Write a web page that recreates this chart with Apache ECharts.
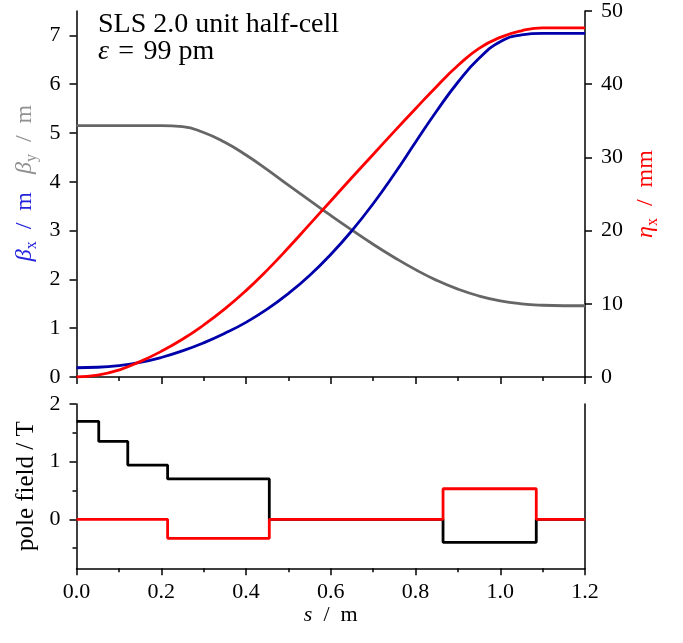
<!DOCTYPE html>
<html><head><meta charset="utf-8">
<script src="https://cdn.jsdelivr.net/npm/echarts@6/dist/echarts.min.js"></script>
<style>html,body{margin:0;padding:0;background:#fff}#c{width:683px;height:643px}</style>
</head><body><div id="c"></div>
<script>
// ---- data ----
const sPos  = [0,0.05,0.1,0.15,0.2,0.25,0.3,0.35,0.4,0.45,0.5,0.55,0.6,0.65,0.7,0.75,0.8,0.85,0.9,0.95,1.0,1.05,1.1,1.15,1.2];
const betaX = [0.19,0.20,0.235,0.30,0.40,0.535,0.70,0.895,1.12,1.39,1.71,2.08,2.51,3.00,3.55,4.16,4.81,5.45,6.04,6.53,6.87,7.01,7.04,7.04,7.04];
const betaY = [5.15,5.15,5.15,5.15,5.15,5.13,5.01,4.81,4.55,4.25,3.93,3.62,3.31,3.01,2.72,2.45,2.20,1.98,1.80,1.66,1.56,1.50,1.47,1.46,1.46];
const etaX  = [0,0.25,0.95,2.1,3.5,5.15,7.1,9.3,11.8,14.6,17.65,20.85,24.05,27.25,30.4,33.55,36.65,39.7,42.55,44.9,46.4,47.3,47.7,47.7,47.7];
const dipoleEdges = [0,0.0525,0.121,0.215,0.455,0.865,1.085,1.2];
const dipoleField = [1.70,1.35,0.94,0.70,0,-0.40,0];
const quadEdges = [0,0.215,0.455,0.865,1.085,1.2];
const quadField = [0,-0.33,0,0.53,0];
const betaTicks = [0,1,2,3,4,5,6,7];
const fieldTicks = [0,1,2];
const fieldMinorTicks = [-0.5,0.5,1.5];

// ---- helpers ----
const zip = (xs, ys) => xs.map((x, i) => [x, ys[i]]);
const steps = (edges, vals) => {
  const d = vals.map((v, i) => [edges[i], v]);
  d.push([edges[edges.length - 1], vals[vals.length - 1]]);
  return d;
};
const F = 'Liberation Serif';
const EN = '\u2002';
const blk = {color: '#000', width: 1.5};
const tickLbl = {fontFamily: F, fontSize: 22, color: '#000'};
const LW = 2.8;

const chart = echarts.init(document.getElementById('c'));
chart.setOption({
  animation: false,
  backgroundColor: '#fff',
  grid: [
    {left: 76.5, right: 98, top: 7, height: 370},
    {left: 76.5, right: 98, top: 404, height: 164.3}
  ],
  title: {
    left: 98, top: 11, padding: 0,
    text: 'SLS 2.0 unit half-cell\n{e|ε}\u2004=\u200499 pm',
    textStyle: {fontFamily: F, fontSize: 28, fontWeight: 'normal', color: '#000', lineHeight: 27,
      rich: {e: {fontFamily: F, fontSize: 28, fontStyle: 'italic', color: '#000', lineHeight: 27}}}
  },
  xAxis: [
    {gridIndex: 0, type: 'value', min: 0, max: 1.2, interval: 0.2, position: 'bottom',
      axisLine: {show: true, onZero: false, lineStyle: blk},
      axisTick: {show: true, length: 7, lineStyle: blk},
      minorTick: {show: true, splitNumber: 2, length: 4, lineStyle: blk},
      axisLabel: {show: false}, splitLine: {show: false}},
    {gridIndex: 1, type: 'value', min: 0, max: 1.2, interval: 0.2, position: 'bottom',
      axisLine: {show: true, onZero: false, lineStyle: blk},
      axisTick: {show: true, length: 7, lineStyle: blk},
      minorTick: {show: true, splitNumber: 2, length: 4, lineStyle: blk},
      axisLabel: Object.assign({margin: 13, formatter: v => v.toFixed(1)}, tickLbl),
      splitLine: {show: false},
      name: '{i|s}' + EN + '/' + EN + 'm', nameLocation: 'middle', nameGap: 36,
      nameTextStyle: {fontFamily: F, fontSize: 22, color: '#000',
        rich: {i: {fontFamily: F, fontSize: 22, fontStyle: 'italic', color: '#000'}}}}
  ],
  yAxis: [
    {gridIndex: 0, type: 'value', position: 'left', min: 0, max: 7.5,
      axisLine: {show: true, lineStyle: blk},
      axisTick: {show: true, length: 7, lineStyle: blk, customValues: betaTicks},
      axisLabel: Object.assign({margin: 16, customValues: betaTicks}, tickLbl),
      splitLine: {show: false}},
    {gridIndex: 0, type: 'value', position: 'right', min: 0, max: 50, interval: 10,
      axisLine: {show: true, lineStyle: blk},
      axisTick: {show: true, length: 7, lineStyle: blk},
      axisLabel: Object.assign({margin: 16}, tickLbl),
      splitLine: {show: false},
      name: '{e|η}{s|x}{n|' + EN + '/' + EN + 'mm}', nameLocation: 'middle', nameRotate: 90, nameGap: 46,
      nameTextStyle: {rich: {
        e: {fontFamily: F, fontSize: 24, fontStyle: 'italic', color: '#f00', lineHeight: 30},
        s: {fontFamily: F, fontSize: 16, color: '#f00', lineHeight: 17, verticalAlign: 'bottom'},
        n: {fontFamily: F, fontSize: 24, color: '#f00', lineHeight: 30}}}},
    {gridIndex: 1, type: 'value', position: 'left', min: -0.85, max: 2,
      axisLine: {show: true, lineStyle: blk},
      axisTick: {show: true, length: 7, lineStyle: blk, customValues: fieldTicks},
      axisLabel: Object.assign({margin: 16, customValues: fieldTicks}, tickLbl),
      splitLine: {show: false},
      name: 'pole field / T', nameLocation: 'middle', nameRotate: 90, nameGap: 27,
      nameTextStyle: {fontFamily: F, fontSize: 25, color: '#000'}},
    {gridIndex: 1, type: 'value', position: 'left', offset: 0, min: -0.85, max: 2,
      axisLine: {show: false},
      axisTick: {show: true, length: 4, lineStyle: blk, customValues: fieldMinorTicks},
      axisLabel: {show: false}, splitLine: {show: false}},
    {gridIndex: 1, type: 'value', position: 'right', min: -0.85, max: 2,
      axisLine: {show: true, lineStyle: blk},
      axisTick: {show: false}, axisLabel: {show: false}, splitLine: {show: false}}
  ],
  graphic: [{
    type: 'text', x: 25, y: 183, rotation: Math.PI / 2,
    style: {
      text: '{bb|β}{bs|x}{bm|' + EN + '/' + EN + 'm' + EN + ' }{gb|β}{gs|y}{gm|' + EN + '/' + EN + 'm}',
      align: 'center', verticalAlign: 'middle',
      rich: {
        bb: {fontFamily: F, fontSize: 24, fontStyle: 'italic', fill: '#2222dd', lineHeight: 30},
        bs: {fontFamily: F, fontSize: 16, fill: '#2222dd', lineHeight: 17, verticalAlign: 'bottom'},
        bm: {fontFamily: F, fontSize: 24, fill: '#2222dd', lineHeight: 30},
        gb: {fontFamily: F, fontSize: 24, fontStyle: 'italic', fill: '#909090', lineHeight: 30},
        gs: {fontFamily: F, fontSize: 16, fill: '#909090', lineHeight: 17, verticalAlign: 'bottom'},
        gm: {fontFamily: F, fontSize: 24, fill: '#909090', lineHeight: 30}
      }
    }
  }],
  series: [
    {name: 'betaY', type: 'line', xAxisIndex: 0, yAxisIndex: 0, data: zip(sPos, betaY),
      showSymbol: false, smooth: 0.5, lineStyle: {color: '#666666', width: LW}, itemStyle: {color: '#666666'}, z: 2},
    {name: 'betaX', type: 'line', xAxisIndex: 0, yAxisIndex: 0, data: zip(sPos, betaX),
      showSymbol: false, smooth: 0.5, lineStyle: {color: '#0000aa', width: LW}, itemStyle: {color: '#0000aa'}, z: 3},
    {name: 'etaX', type: 'line', xAxisIndex: 0, yAxisIndex: 1, data: zip(sPos, etaX),
      showSymbol: false, smooth: 0.5, lineStyle: {color: '#ff0000', width: LW}, itemStyle: {color: '#ff0000'}, z: 4},
    {name: 'dipole', type: 'line', xAxisIndex: 1, yAxisIndex: 2, data: steps(dipoleEdges, dipoleField),
      step: 'end', showSymbol: false, lineStyle: {color: '#000', width: LW}, itemStyle: {color: '#000'}, z: 2},
    {name: 'quad', type: 'line', xAxisIndex: 1, yAxisIndex: 2, data: steps(quadEdges, quadField),
      step: 'end', showSymbol: false, lineStyle: {color: '#ff0000', width: LW}, itemStyle: {color: '#ff0000'}, z: 3}
  ]
});
</script></body></html>
